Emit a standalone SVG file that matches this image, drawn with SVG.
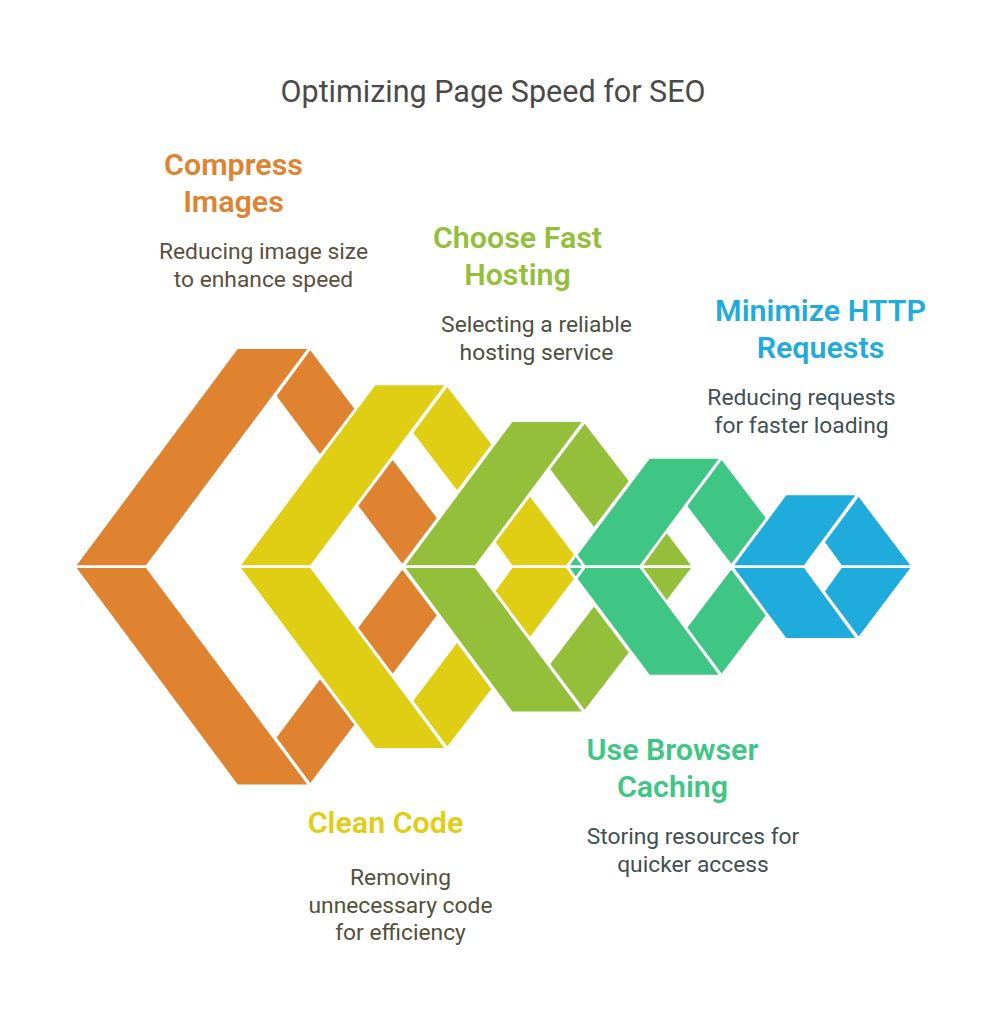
<svg xmlns="http://www.w3.org/2000/svg" width="987" height="1024" viewBox="0 0 987 1024">
<style>
text{font-family:Roboto,"Liberation Sans",sans-serif;text-anchor:middle}
.t{font-size:30.5px;fill:#4A4A4A}
.h{font-size:30.4px;font-weight:600}
.d{font-size:22.8px}
.o{fill:#E08330}.y{fill:#E0CE15}.g{fill:#93BF3A}.e{fill:#3FC685}.b{fill:#1FABDC}
</style>
<rect width="987" height="1024" fill="#fff"/>
<text class="t" x="493" y="102">Optimizing Page Speed for SEO</text>
<g id="compress-images">
<g class="o">
<polygon points="237.7,349 307.3,349 146,565.3 76.7,565.3"/>
<polygon points="310.3,350.3 354.3,408.7 320,454 276.6,396"/>
<polygon points="392.7,460 436.7,518 402.3,563.7 358.3,505.7"/>
<polygon points="237.7,784.4 307.3,784.4 146,568.1 76.7,568.1"/>
<polygon points="310.3,783.1 354.3,724.7 320,679.4 276.6,737.4"/>
<polygon points="392.7,673.4 436.7,615.4 402.3,569.7 358.3,627.7"/>
</g>
<text class="h" x="233.5" y="175" fill="#E08330">Compress</text>
<text class="h" x="233.5" y="212" fill="#E08330">Images</text>
<text class="d" x="263.5" y="259" fill="#5B5040">Reducing image size</text>
<text class="d" x="263.5" y="287" fill="#5B5040">to enhance speed</text>
</g>
<g id="clean-code">
<g class="y">
<polygon points="375.3,385.3 444.3,385.3 310.3,565.3 241,565.3"/>
<polygon points="447.3,387 491.3,444.3 457,490.3 413.3,432.7"/>
<polygon points="530,496.7 574,554.7 566.3,565.3 512.3,565.3 495.7,542.3"/>
<polygon points="375.3,748.1 444.3,748.1 310.3,568.1 241,568.1"/>
<polygon points="447.3,746.4 491.3,689.1 457,643.1 413.3,700.7"/>
<polygon points="530,636.7 574,578.7 566.3,568.1 512.3,568.1 495.7,591.1"/>
</g>
<text class="h" x="385.5" y="833" fill="#E0CE15">Clean Code</text>
<text class="d" x="400.5" y="885" fill="#54503A">Removing</text>
<text class="d" x="400.5" y="913" fill="#54503A">unnecessary code</text>
<text class="d" x="400.5" y="940" fill="#54503A">for efficiency</text>
</g>
<g id="choose-fast-hosting">
<g class="g">
<polygon points="512.3,422 581.7,422 475,565.3 405.7,565.3"/>
<polygon points="584.7,423.7 628.7,481 594,527 550.3,469.3"/>
<polygon points="666.7,533.3 691,565.3 643.3,565.3"/>
<polygon points="512.3,711.4 581.7,711.4 475,568.1 405.7,568.1"/>
<polygon points="584.7,709.7 628.7,652.4 594,606.4 550.3,664.1"/>
<polygon points="666.7,600.1 691,568.1 643.3,568.1"/>
</g>
<text class="h" x="517.5" y="248" fill="#93BF3A">Choose Fast</text>
<text class="h" x="517.5" y="285" fill="#93BF3A">Hosting</text>
<text class="d" x="536.5" y="332" fill="#4C5040">Selecting a reliable</text>
<text class="d" x="536.5" y="360" fill="#4C5040">hosting service</text>
</g>
<g id="use-browser-caching">
<g class="e">
<polygon points="649.7,458.7 718.7,458.7 639.7,565.3 585.3,565.3 577.7,554.7"/>
<polygon points="721.7,460 765.7,518 731.3,563.7 687.3,506"/>
<polygon points="575.7,557 581.7,565.3 570,565.3"/>
<polygon points="649.7,674.7 718.7,674.7 639.7,568.1 585.3,568.1 577.7,578.7"/>
<polygon points="721.7,673.4 765.7,615.4 731.3,569.7 687.3,627.4"/>
<polygon points="575.7,576.4 581.7,568.1 570,568.1"/>
</g>
<text class="h" x="672.5" y="760" fill="#3FC685">Use Browser</text>
<text class="h" x="672.5" y="797" fill="#3FC685">Caching</text>
<text class="d" x="693" y="844" fill="#3F5050">Storing resources for</text>
<text class="d" x="693" y="872" fill="#3F5050">quicker access</text>
</g>
<g id="minimize-http-requests">
<g class="b">
<polygon points="786.3,495.3 855.3,495.3 804,565.3 734.3,565.3"/>
<polygon points="858.7,497 910.3,565.3 841.7,565.3 825,542"/>
<polygon points="786.3,638.1 855.3,638.1 804,568.1 734.3,568.1"/>
<polygon points="858.7,636.4 910.3,568.1 841.7,568.1 825,591.4"/>
</g>
<text class="h" x="820.5" y="321" fill="#1FABDC">Minimize HTTP</text>
<text class="h" x="820.5" y="358" fill="#1FABDC">Requests</text>
<text class="d" x="801.5" y="405" fill="#3F4F55">Reducing requests</text>
<text class="d" x="801.5" y="433" fill="#3F4F55">for faster loading</text>
</g>
<g id="connectors"></g>
</svg>
